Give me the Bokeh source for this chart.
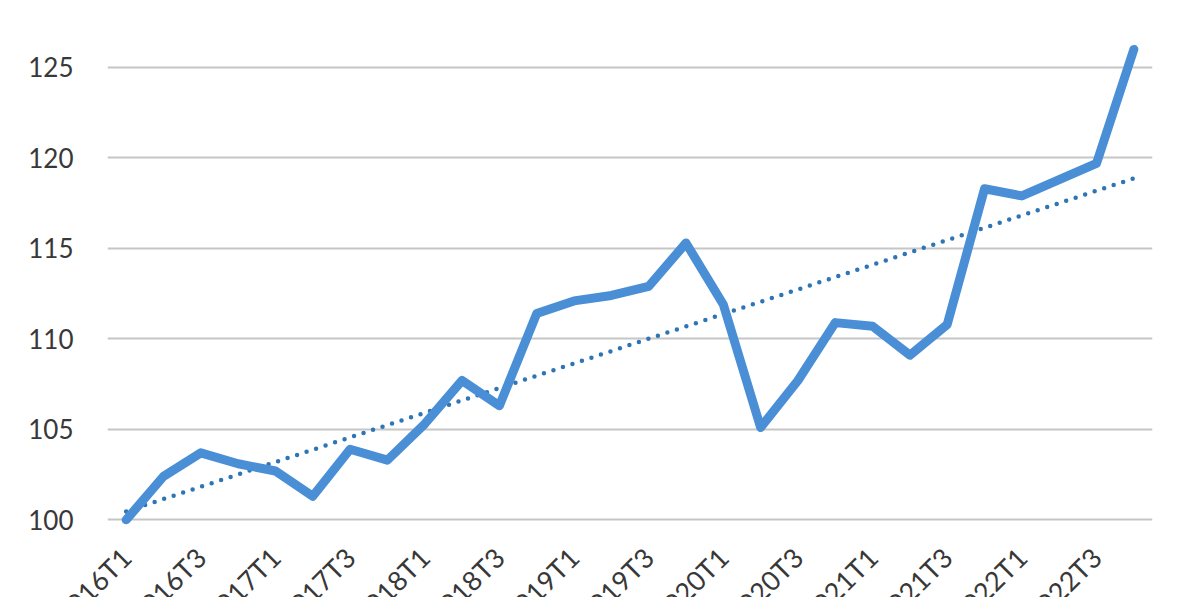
import math
import numpy as np
from bokeh.plotting import figure
from bokeh.models import FixedTicker, Range1d, ColumnDataSource
from bokeh.embed import file_html
from bokeh.resources import INLINE

# ---- data ----
quarters = [f"{y}T{q}" for y in range(2016, 2023) for q in range(1, 5)]
values = [100.0, 102.4, 103.7, 103.1, 102.7, 101.3, 103.9, 103.3,
          105.3, 107.7, 106.3, 111.4, 112.1, 112.4, 112.9, 115.3,
          111.9, 105.1, 107.7, 110.9, 110.7, 109.1, 110.8, 118.3,
          117.9, 118.8, 119.7, 126.0]
y_ticks = [100, 105, 110, 115, 120, 125]

idx = list(range(len(quarters)))
slope, intercept = np.polyfit(idx, values, 1)
trend = [intercept + slope * i for i in idx]

src = ColumnDataSource(dict(x=idx, y=values, t=trend))

p = figure(width=1192, height=662, output_backend="svg", toolbar_location=None,
           x_range=Range1d(-0.5, len(quarters) - 0.5),
           y_range=Range1d(99.3, 128.26),
           min_border_left=107, min_border_right=40,
           min_border_top=8, min_border_bottom=130)
p.outline_line_color = None
p.background_fill_color = "white"
p.border_fill_color = "white"

p.line("x", "t", source=src, line_color="#2E75B6", line_width=4.5,
       line_dash="0 10", line_cap="round")
p.line("x", "y", source=src, line_color="#4A8FD6", line_width=9,
       line_join="round", line_cap="round")

# grid
p.xgrid.visible = False
p.ygrid.ticker = FixedTicker(ticks=y_ticks)
p.ygrid.grid_line_color = "#C6C6C6"
p.ygrid.grid_line_width = 2

# y axis
p.yaxis.ticker = FixedTicker(ticks=y_ticks)
p.yaxis.axis_line_color = None
p.yaxis.major_tick_line_color = None
p.yaxis.minor_tick_line_color = None
p.yaxis.major_tick_out = 0
p.yaxis.major_label_standoff = 34
p.yaxis.major_label_text_font = "Lato"
p.yaxis.major_label_text_font_size = "26px"
p.yaxis.major_label_text_color = "#383838"

# x axis
p.xaxis.ticker = FixedTicker(ticks=idx[::2])
p.xaxis.major_label_overrides = {i: quarters[i] for i in idx[::2]}
p.xaxis.axis_line_color = None
p.xaxis.major_tick_line_color = None
p.xaxis.minor_tick_line_color = None
p.xaxis.major_tick_out = 0
p.xaxis.major_label_orientation = math.pi / 4
p.xaxis.major_label_standoff = 20
p.xaxis.major_label_text_font = "Lato"
p.xaxis.major_label_text_font_size = "27px"
p.xaxis.major_label_text_color = "#383838"

open("out.html", "w").write(file_html(p, INLINE))
